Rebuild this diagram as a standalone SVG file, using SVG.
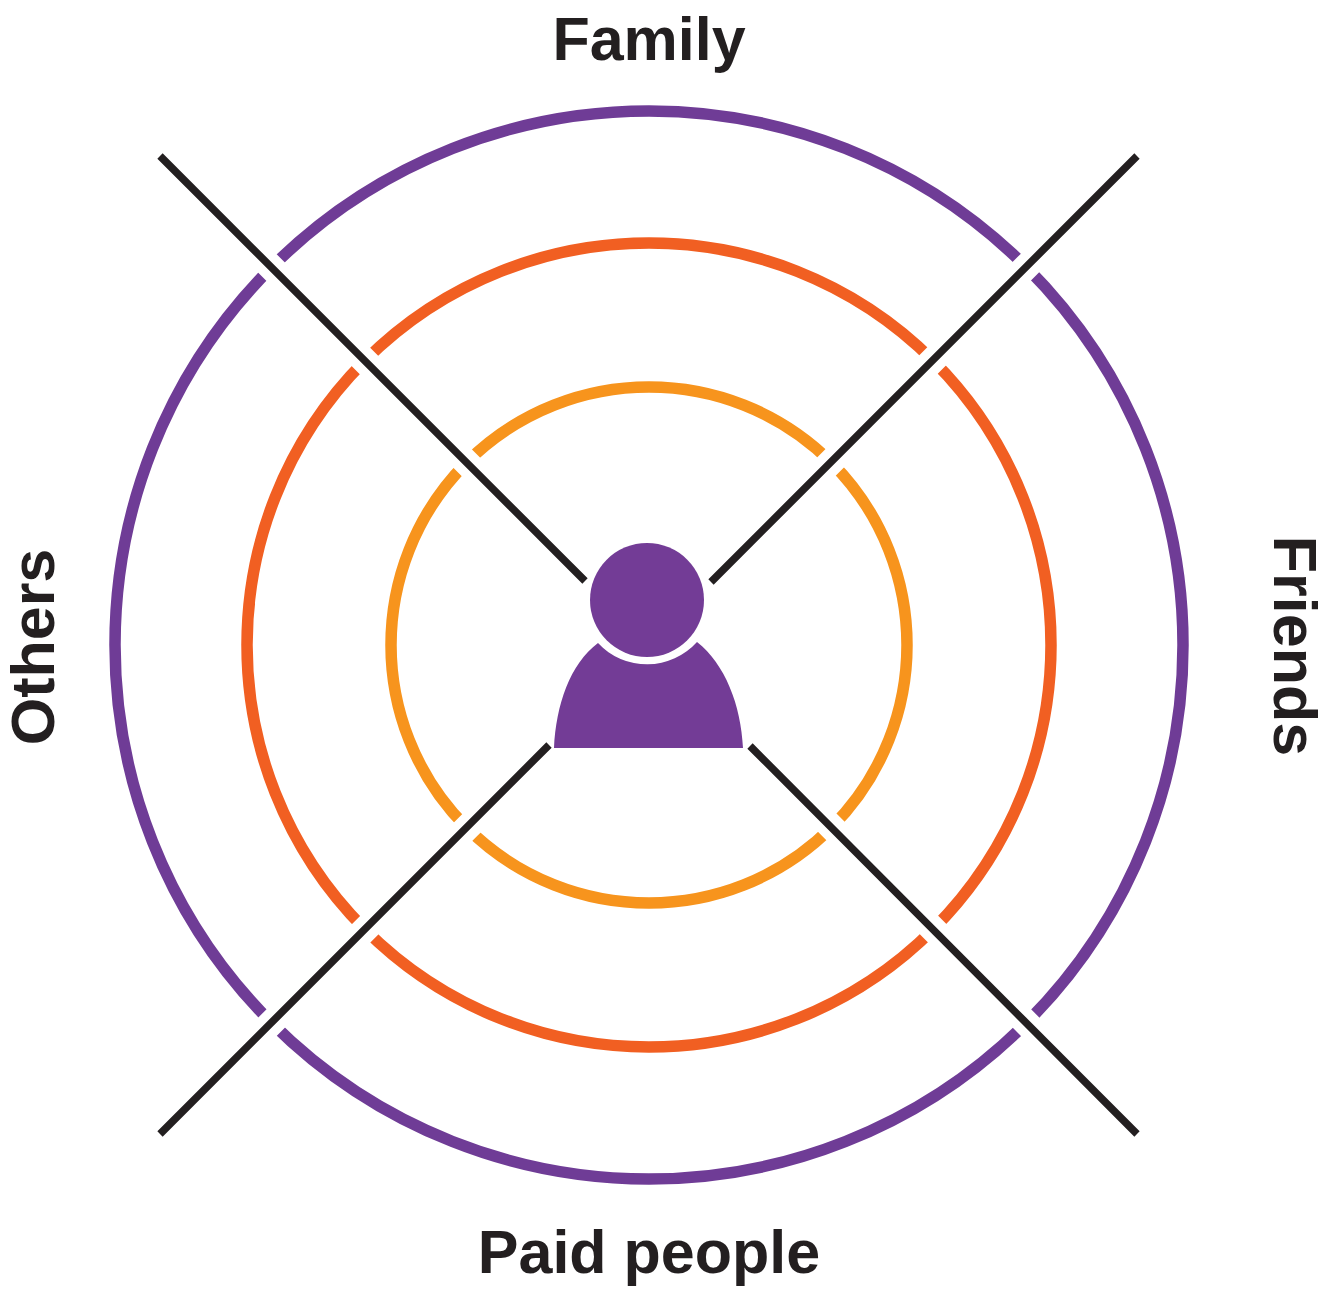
<svg xmlns="http://www.w3.org/2000/svg" width="1338" height="1291" viewBox="0 0 1338 1291">
<style>
.r{fill:none;stroke-width:11.5}
.l{stroke:#231f20;stroke-width:7.5;fill:none}
.g{stroke:#fff;stroke-width:26;fill:none}
.t{font-family:"Liberation Sans",Arial,sans-serif;font-weight:700;font-size:61px;fill:#231f20;text-anchor:middle}
</style>
<rect width="1338" height="1291" fill="#fff"/>
<g id="rings">
<circle id="ring-outer" class="r" cx="649" cy="645" r="534" stroke="#6f3c96"/>
<circle id="ring-middle" class="r" cx="649" cy="645" r="402" stroke="#f15f22"/>
<circle id="ring-inner" class="r" cx="649" cy="645" r="258" stroke="#f7941d"/>
</g>
<g id="connectors">
<path class="g" d="M200 196L585 581M1097 196L711 582M200 1094L550 745M1097 1094L750 745"/>
<path class="l" d="M160 156L585 581M1137 156L711 582M160 1134L549 745M1137 1134L750 746"/>
</g>
<g id="person">
<circle cx="647" cy="600" r="57" fill="#733c96"/>
<path d="M554 748C556 705 570 664 598 643A67 67 0 0 0 697 642C725 664 741 705 743 748Z" fill="#733c96"/>
</g>
<g id="labels">
<text class="t" x="649" y="60">Family</text>
<text class="t" x="649" y="1273">Paid people</text>
<text class="t" transform="translate(54 647) rotate(-90)">Others</text>
<text class="t" transform="translate(1274 646) rotate(90)">Friends</text>
</g>
</svg>
